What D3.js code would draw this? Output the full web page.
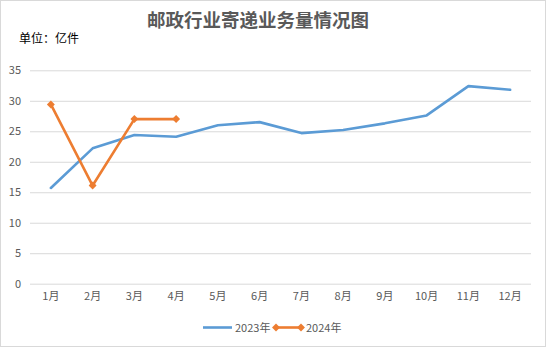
<!DOCTYPE html>
<html>
<head>
<meta charset="utf-8">
<script src="https://cdn.jsdelivr.net/npm/d3@7"></script>
<style>
  html, body { margin: 0; padding: 0; background: #fff; }
  svg { display: block; }
</style>
</head>
<body>
<svg id="chart" width="546" height="347"></svg>
<script>
// Monthly postal express volume (100 million pieces)
const months = ["1月","2月","3月","4月","5月","6月","7月","8月","9月","10月","11月","12月"];
const series2023 = [15.7, 22.2, 24.4, 24.1, 26.0, 26.5, 24.7, 25.2, 26.3, 27.6, 32.4, 31.8];
const series2024 = [29.4, 16.1, 27.0, 27.0];
const yTicks = [0, 5, 10, 15, 20, 25, 30, 35];
const seriesNames = ["2023年", "2024年"];
const colors = ["#5B9BD5", "#ED7D31"];

const svg = d3.select("#chart");
const W = 546, H = 347;
const font = "'Noto Sans CJK SC', 'Noto Sans', sans-serif";

// outer frame
svg.append("rect").attr("x", 0.5).attr("y", 0.5).attr("width", W - 1).attr("height", H - 1)
  .attr("fill", "#fff").attr("stroke", "#d9d9d9");

const plot = { left: 30, right: 531, top: 70.3, bottom: 283.7 };

const x = d3.scaleBand().domain(months).range([plot.left, plot.right]);
const y = d3.scaleLinear().domain([0, 35]).range([plot.bottom, plot.top]);

// gridlines + y labels
const yAxis = d3.axisLeft(y).tickValues(yTicks).tickSize(-(plot.right - plot.left)).tickPadding(9);
const gy = svg.append("g").attr("transform", `translate(${plot.left},0)`).call(yAxis);
gy.select(".domain").remove();
gy.selectAll(".tick line").attr("stroke", "#d9d9d9").attr("stroke-width", 1);
gy.selectAll(".tick text").attr("fill", "#595959").style("font-family", font).style("font-size", "11px");

// x labels
const xAxis = d3.axisBottom(x).tickSize(0).tickPadding(9);
const gx = svg.append("g").attr("transform", `translate(0,${plot.bottom})`).call(xAxis);
gx.select(".domain").remove();
gx.selectAll(".tick text").attr("fill", "#595959").style("font-family", font).style("font-size", "11px");

const cx = m => x(m) + x.bandwidth() / 2;
const line = d3.line().x((d, i) => cx(months[i])).y(d => y(d));

svg.append("path").datum(series2023).attr("d", line)
  .attr("fill", "none").attr("stroke", colors[0]).attr("stroke-width", 2.6)
  .attr("stroke-linejoin", "round").attr("stroke-linecap", "round");

svg.append("path").datum(series2024).attr("d", line)
  .attr("fill", "none").attr("stroke", colors[1]).attr("stroke-width", 2.6)
  .attr("stroke-linejoin", "round").attr("stroke-linecap", "round");

const diamond = d3.symbol().type(d3.symbolDiamond2).size(40);
svg.append("g").selectAll("path").data(series2024).join("path")
  .attr("d", diamond)
  .attr("transform", (d, i) => `translate(${cx(months[i])},${y(d)})`)
  .attr("fill", colors[1]);

// title
svg.append("text").attr("x", 258).attr("y", 27).attr("text-anchor", "middle")
  .attr("fill", "#595959").style("font-family", font).style("font-weight", "bold")
  .style("font-size", "18.5px").text("邮政行业寄递业务量情况图");

// unit
svg.append("text").attr("x", 19).attr("y", 43)
  .attr("fill", "#000").style("font-family", font).style("font-size", "12px").text("单位：亿件");

// legend
const ly = 327.5;
const lg = svg.append("g");
lg.append("line").attr("x1", 203).attr("x2", 232).attr("y1", ly).attr("y2", ly)
  .attr("stroke", colors[0]).attr("stroke-width", 2.6);
lg.append("text").attr("x", 235).attr("y", ly + 4.5).attr("fill", "#595959")
  .style("font-family", font).style("font-size", "11px").text(seriesNames[0]);
lg.append("line").attr("x1", 276).attr("x2", 301).attr("y1", ly).attr("y2", ly)
  .attr("stroke", colors[1]).attr("stroke-width", 2.6);
[276, 301].forEach(px => lg.append("path").attr("d", diamond)
  .attr("transform", `translate(${px},${ly})`).attr("fill", colors[1]));
lg.append("text").attr("x", 306).attr("y", ly + 4.5).attr("fill", "#595959")
  .style("font-family", font).style("font-size", "11px").text(seriesNames[1]);
</script>
</body>
</html>
